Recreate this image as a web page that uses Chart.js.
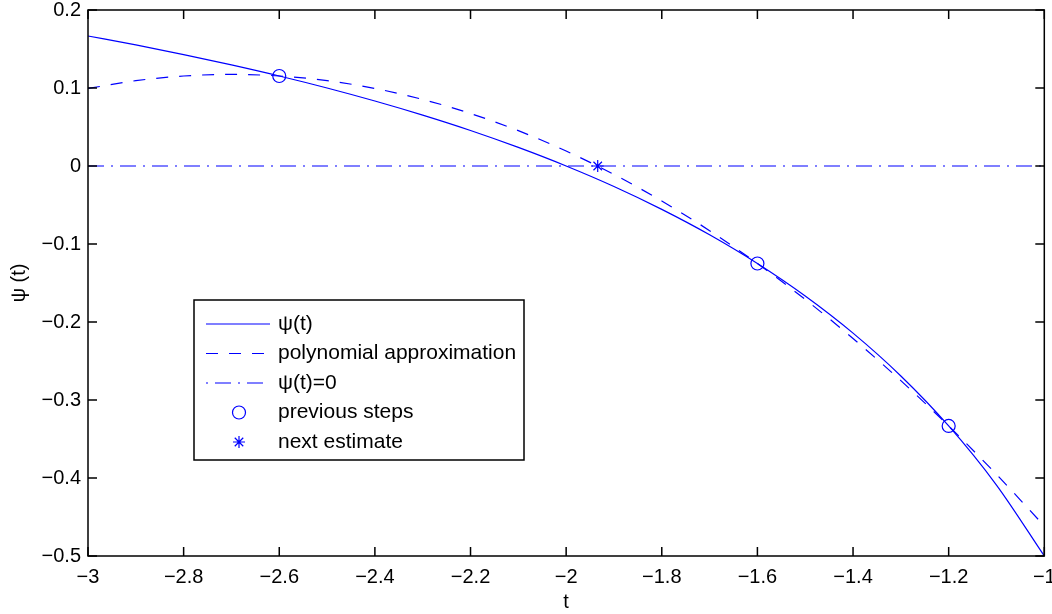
<!DOCTYPE html>
<html>
<head>
<meta charset="utf-8">
<script src="https://cdn.jsdelivr.net/npm/chart.js@4.4.1/dist/chart.umd.min.js"></script>
<style>
  html, body { margin:0; padding:0; background:#fff; }
</style>
</head>
<body>
<canvas id="grafico" width="1052" height="614"></canvas>
<script>
// ── Datos ──
const tValores    = [-3, -2.9, -2.8, -2.7, -2.6, -2.5, -2.4, -2.3, -2.2, -2.1, -2, -1.9, -1.8, -1.7, -1.6, -1.5, -1.4, -1.3, -1.2, -1.1, -1];
const psiValores  = [0.1667, 0.1552, 0.1429, 0.1296, 0.1154, 0.1, 0.0833, 0.0652, 0.0455, 0.0238, 0, -0.0263, -0.0556, -0.0882, -0.125, -0.1667, -0.2143, -0.2692, -0.3333, -0.4091, -0.5];
const polyValores = [0.0994, 0.1094, 0.1154, 0.1174, 0.1154, 0.1094, 0.0994, 0.0853, 0.0673, 0.0453, 0.0192, -0.0108, -0.0449, -0.0829, -0.125, -0.1711, -0.2212, -0.2752, -0.3333, -0.3954, -0.4615];
const pasosT      = [-2.6, -1.6, -1.2];
const pasosPsi    = [0.1154, -0.125, -0.3333];
const estimT      = [-1.934];
const estimPsi    = [0];
const ceroT       = [-3, -1];
const ceroPsi     = [0, 0];
const xTicks = [-3, -2.8, -2.6, -2.4, -2.2, -2, -1.8, -1.6, -1.4, -1.2, -1];
const yTicks = [0.2, 0.1, 0, -0.1, -0.2, -0.3, -0.4, -0.5];
const leyenda = ['ψ(t)', 'polynomial approximation', 'ψ(t)=0', 'previous steps', 'next estimate'];

const AZUL = '#0000ff';
const FUENTE = '"Liberation Sans", Arial, Helvetica, sans-serif';
const DASH = [12, 11];
const DASHDOT = [16, 7, 2, 7];

const puntos = (xs, ys) => xs.map((x, i) => ({ x, y: ys[i] }));
const fmt = v => String(Math.round(v * 10) / 10).replace('-', '\u2212');

// ── Caja, ticks interiores y leyenda ──
const marco = {
  id: 'marco',
  afterDatasetsDraw(chart) {
    const { ctx, chartArea: a, scales: { x, y } } = chart;
    ctx.save();
    ctx.strokeStyle = '#000';
    ctx.lineWidth = 1.5;
    ctx.strokeRect(a.left, a.top, a.right - a.left, a.bottom - a.top);
    ctx.beginPath();
    xTicks.forEach(v => {
      const px = x.getPixelForValue(v);
      ctx.moveTo(px, a.bottom); ctx.lineTo(px, a.bottom - 9);
      ctx.moveTo(px, a.top);    ctx.lineTo(px, a.top + 9);
    });
    yTicks.forEach(v => {
      const py = y.getPixelForValue(v);
      ctx.moveTo(a.left, py);  ctx.lineTo(a.left + 9, py);
      ctx.moveTo(a.right, py); ctx.lineTo(a.right - 9, py);
    });
    ctx.stroke();

    // leyenda
    const L = { x: 194, y: 300, w: 330, h: 160 };
    ctx.fillStyle = '#fff';
    ctx.fillRect(L.x, L.y, L.w, L.h);
    ctx.lineWidth = 1.5;
    ctx.strokeRect(L.x, L.y, L.w, L.h);
    ctx.font = '21px ' + FUENTE;
    ctx.textBaseline = 'middle';
    ctx.textAlign = 'left';
    leyenda.forEach((txt, i) => {
      const fy = 324 + i * 29.5;
      ctx.strokeStyle = AZUL;
      ctx.lineWidth = 1.2;
      if (i < 3) {
        ctx.setLineDash(i === 0 ? [] : (i === 1 ? DASH : [2, 7, 16, 7]));
        ctx.beginPath(); ctx.moveTo(206, fy); ctx.lineTo(270, fy); ctx.stroke();
        ctx.setLineDash([]);
      } else {
        ctx.fillStyle = 'rgba(0,0,0,0)';
        Chart.helpers.drawPoint(ctx, { pointStyle: i === 3 ? 'circle' : 'star', radius: i === 3 ? 6.5 : 6, rotation: 0, borderWidth: 1.2 }, 239, fy);
      }
      ctx.fillStyle = '#000';
      ctx.fillText(txt, 278, fy);
    });
    ctx.restore();
  }
};

// ── Grafico ──
new Chart(document.getElementById('grafico'), {
  type: 'line',
  data: {
    datasets: [
      { data: puntos(ceroT, ceroPsi), borderColor: AZUL, borderWidth: 1.2, borderDash: DASHDOT, pointRadius: 0, fill: false },
      { data: puntos(tValores, polyValores), borderColor: AZUL, borderWidth: 1.2, borderDash: DASH, pointRadius: 0, fill: false, cubicInterpolationMode: 'monotone' },
      { data: puntos(tValores, psiValores), borderColor: AZUL, borderWidth: 1.2, pointRadius: 0, fill: false, cubicInterpolationMode: 'monotone' },
      { data: puntos(pasosT, pasosPsi), showLine: false, pointStyle: 'circle', pointRadius: 6.5,
        pointBorderColor: AZUL, pointBackgroundColor: 'rgba(0,0,0,0)', pointBorderWidth: 1.2 },
      { data: puntos(estimT, estimPsi), showLine: false, pointStyle: 'star', pointRadius: 6,
        pointBorderColor: AZUL, pointBorderWidth: 1.2 },
    ]
  },
  options: {
    responsive: false, animation: false, devicePixelRatio: 1,
    layout: { padding: { left: 0, right: 7, top: 10, bottom: 0 } },
    plugins: { legend: { display: false }, tooltip: { enabled: false } },
    scales: {
      x: {
        type: 'linear', min: -3, max: -1,
        grid: { display: false, drawTicks: false }, border: { display: false },
        afterBuildTicks: s => { s.ticks = xTicks.map(v => ({ value: v })); },
        afterFit: s => { s.height = 58; s.paddingLeft = 0; s.paddingRight = 0; },
        ticks: { color: '#000', font: { size: 20, family: FUENTE }, padding: 9, maxRotation: 0, autoSkip: false, callback: fmt },
        title: { display: true, text: 't', color: '#000', font: { size: 20, family: FUENTE }, padding: { top: 0, bottom: 0 } }
      },
      y: {
        type: 'linear', min: -0.5, max: 0.2,
        grid: { display: false, drawTicks: false }, border: { display: false },
        afterBuildTicks: s => { s.ticks = yTicks.map(v => ({ value: v })); },
        afterFit: s => { s.width = 88; s.paddingTop = 0; s.paddingBottom = 0; },
        ticks: { color: '#000', font: { size: 20, family: FUENTE }, padding: 7, autoSkip: false, callback: fmt },
        title: { display: true, text: 'ψ (t)', color: '#000', font: { size: 20, family: FUENTE }, padding: { top: 7, bottom: 0 } }
      }
    }
  },
  plugins: [marco]
});
</script>
</body>
</html>
